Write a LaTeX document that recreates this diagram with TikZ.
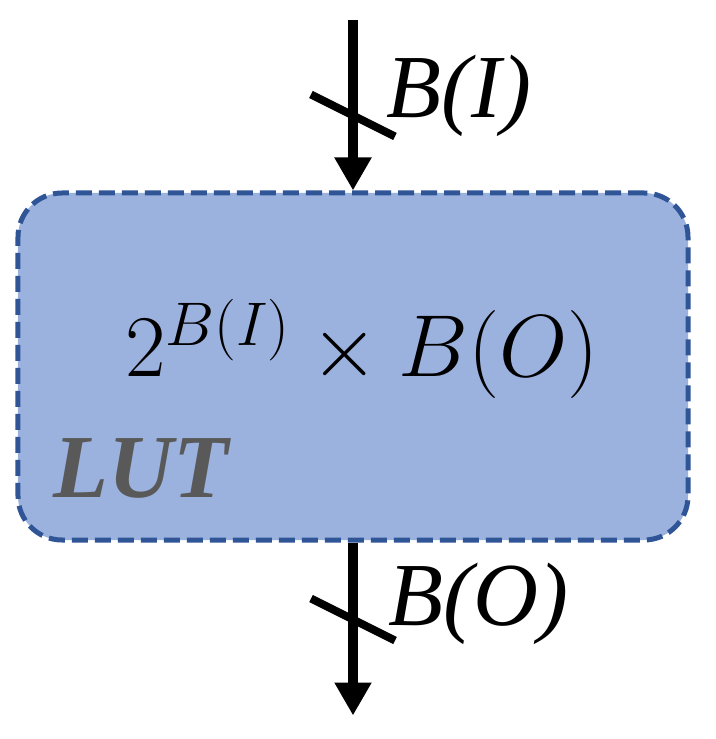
\RequirePackage{fix-cm}
\documentclass[tikz,border=0pt]{standalone}
\usepackage{fontspec}
\setmainfont{Liberation Serif}[
  ItalicFont = Liberation Serif Italic,
  BoldItalicFont = Liberation Serif Bold Italic]
\usepackage{tikz}
\usetikzlibrary{positioning}
\usetikzlibrary{arrows.meta, calc}
\definecolor{lutfill}{RGB}{155,177,222}
\definecolor{lutline}{RGB}{47,85,151}
\definecolor{lutgray}{RGB}{89,89,89}

\tikzset{
  lutbox/.style = {draw=lutline, fill=lutfill, line width=2.5pt,
    dash pattern=on 8pt off 3.5pt, rounded corners=22pt,
    minimum width=335pt, minimum height=173.5pt, inner sep=0pt},
  bus/.style = {line width=5pt, -{Triangle[width=17.5pt,length=16.5pt]}},
  busslash/.style = {line width=4pt},
  buslabel/.style = {font=\fontsize{45}{50}\selectfont\itshape, inner sep=0pt, anchor=base west},
}

\begin{document}
\begin{tikzpicture}

\useasboundingbox (-176.5pt,-186.25pt) rectangle (181.5pt,183.25pt);

\node[lutbox]		(lut)		at (0,0)		{};
\node[anchor=base west, inner sep=0pt, font=\fontsize{44}{50}\selectfont]
	(size)	at ($(lut.center)+(-114pt,-5.25pt)$)	{$2^{B(I)} \times B(O)$};
\node[anchor=base west, inner sep=0pt, text=lutgray, font=\fontsize{45}{50}\selectfont\bfseries\itshape]
	(name)	at ($(lut.center)+(-150pt,-65.25pt)$)	{LUT};

\coordinate[above = 85pt of lut.north]		(in);
\coordinate[below = 86.5pt of lut.south]	(out);
\coordinate[above = 37.5pt of lut.north]	(in_cut);
\coordinate[below = 38.5pt of lut.south]	(out_cut);

\draw[bus] (in) -- (lut.north);
\draw[bus] (lut.south) -- (out);

% bus width marks
\draw[busslash] ($(in_cut)+(-21pt,10.5pt)$) -- ($(in_cut)+(21pt,-10.5pt)$);
\draw[busslash] ($(out_cut)+(-21pt,10.5pt)$) -- ($(out_cut)+(21pt,-10.5pt)$);

\node[buslabel] (in_w)	at ($(lut.north)+(16.5pt,36.5pt)$)	{B(I)};
\node[buslabel] (out_w)	at ($(lut.south)+(17.5pt,-41.5pt)$)	{B(O)};

\end{tikzpicture}
\end{document}
